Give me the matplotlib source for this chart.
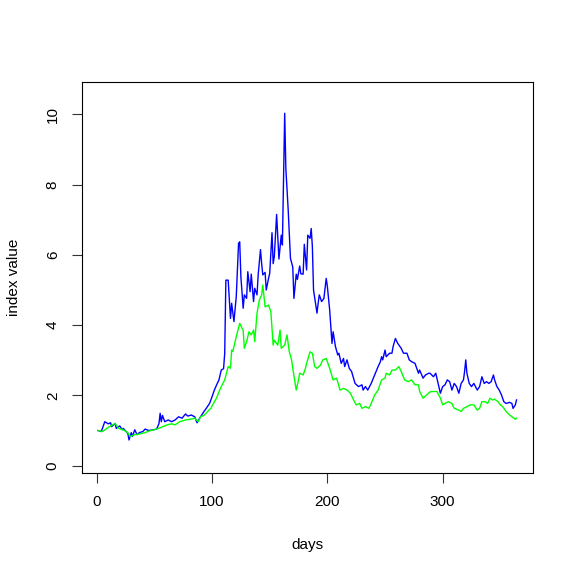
import matplotlib
matplotlib.use("Agg")
import matplotlib.pyplot as plt

plt.rcParams['font.family'] = ['Liberation Sans', 'DejaVu Sans']

# blue index
blue_days = [1, 4, 7, 10, 12, 13, 16, 17, 20, 22, 23, 25, 27, 28, 30, 31, 33, 35, 37, 40,
             42, 45, 49, 52, 54, 55, 56, 57, 59, 62, 65, 68, 71, 74, 77, 79, 82, 85, 87, 90,
             93, 95, 98, 100, 102, 104, 106, 108, 110, 111, 112, 114, 116, 117, 119, 121, 123, 124, 125, 127,
             128, 130, 131, 133, 134, 136, 137, 139, 140, 142, 143, 144, 146, 147, 149, 150, 152, 153, 154, 156,
             158, 160, 161, 163, 164, 166, 167, 168, 170, 171, 173, 174, 176, 177, 179, 180, 182, 183, 185, 186,
             187, 188, 191, 192, 193, 195, 197, 199, 200, 202, 204, 205, 206, 207, 209, 210, 212, 214, 215, 217,
             219, 221, 224, 227, 230, 231, 233, 235, 238, 241, 244, 246, 247, 248, 250, 251, 254, 256, 257, 259,
             261, 264, 266, 269, 271, 273, 276, 279, 280, 283, 285, 288, 289, 292, 294, 296, 298, 300, 302, 304,
             306, 308, 310, 312, 314, 316, 318, 319, 320, 321, 323, 325, 327, 330, 332, 334, 336, 338, 340, 342,
             344, 345, 347, 349, 351, 353, 355, 358, 360, 361, 363, 364]
blue_vals = [1.00, 0.97, 1.25, 1.19, 1.22, 1.11, 1.20, 1.06, 1.13, 1.02, 1.06, 0.99, 0.92, 0.73, 0.94, 0.83, 1.02, 0.88, 0.94, 0.97,
             1.04, 1.00, 1.02, 1.04, 1.20, 1.49, 1.25, 1.43, 1.25, 1.30, 1.25, 1.30, 1.39, 1.35, 1.47, 1.41, 1.44, 1.39, 1.22, 1.39,
             1.54, 1.63, 1.78, 1.96, 2.15, 2.30, 2.44, 2.72, 2.76, 3.20, 5.28, 5.28, 4.19, 4.62, 4.10, 4.81, 6.33, 6.37, 5.38, 4.48,
             4.86, 4.76, 5.52, 4.95, 5.45, 4.67, 5.05, 4.86, 5.43, 6.15, 5.76, 5.43, 5.50, 5.00, 5.33, 5.47, 6.63, 5.75, 5.95, 7.15,
             5.88, 6.56, 6.28, 10.03, 8.46, 7.30, 6.60, 5.90, 5.65, 4.76, 5.45, 5.30, 5.68, 5.46, 5.45, 6.30, 5.57, 6.56, 6.47, 6.75,
             6.23, 5.00, 4.34, 4.62, 4.86, 4.67, 4.76, 5.33, 5.10, 4.43, 3.48, 3.81, 3.60, 3.39, 3.15, 3.20, 2.91, 3.05, 2.82, 3.01,
             2.77, 2.68, 2.34, 2.25, 2.30, 2.15, 2.25, 2.15, 2.34, 2.58, 2.82, 2.96, 3.10, 3.01, 3.29, 3.10, 3.20, 3.20, 3.39, 3.62,
             3.48, 3.34, 3.20, 3.20, 3.01, 2.96, 2.91, 2.63, 2.72, 2.49, 2.58, 2.63, 2.63, 2.53, 2.63, 2.34, 2.06, 2.25, 2.30, 2.44,
             2.39, 2.15, 2.34, 2.25, 2.06, 2.34, 2.44, 2.68, 3.01, 2.63, 2.34, 2.25, 2.34, 2.15, 2.25, 2.53, 2.34, 2.39, 2.34, 2.39,
             2.58, 2.44, 2.25, 2.15, 2.01, 1.82, 1.77, 1.80, 1.77, 1.63, 1.73, 1.87]

# green index
green_days = [1, 5, 10, 16, 19, 23, 27, 29, 33, 37, 42, 46, 52, 56, 61, 65, 68, 72, 77, 81,
              85, 88, 90, 93, 97, 99, 101, 104, 106, 108, 111, 114, 116, 117, 118, 121, 124, 126, 127, 128,
              130, 132, 134, 136, 137, 139, 141, 143, 144, 146, 149, 151, 153, 154, 157, 159, 160, 163, 165, 167,
              169, 170, 173, 175, 176, 179, 181, 182, 185, 187, 189, 191, 194, 196, 199, 202, 205, 208, 211, 214,
              217, 220, 222, 225, 228, 230, 233, 236, 238, 241, 244, 247, 250, 251, 254, 256, 259, 262, 264, 267,
              270, 273, 276, 279, 280, 283, 286, 289, 292, 295, 298, 300, 302, 305, 308, 310, 314, 316, 318, 321,
              324, 327, 330, 332, 334, 337, 339, 341, 343, 345, 348, 350, 352, 355, 358, 361, 363, 364]
green_vals = [1.00, 0.97, 1.09, 1.20, 1.06, 1.02, 0.94, 0.83, 0.88, 0.90, 0.94, 0.99, 1.04, 1.09, 1.16, 1.19, 1.16, 1.25, 1.30, 1.32,
              1.35, 1.25, 1.39, 1.43, 1.57, 1.63, 1.76, 1.93, 2.10, 2.25, 2.44, 2.82, 2.77, 3.29, 3.25, 3.67, 4.05, 3.91, 3.86, 3.34,
              3.53, 3.81, 3.72, 3.86, 3.53, 4.34, 4.71, 4.86, 5.14, 4.52, 4.57, 4.38, 3.43, 3.57, 3.43, 3.86, 3.34, 3.43, 3.72, 3.24,
              3.01, 2.77, 2.15, 2.44, 2.63, 2.58, 2.77, 2.91, 3.24, 3.20, 2.82, 2.77, 2.86, 3.01, 3.05, 2.77, 2.44, 2.49, 2.15, 2.20,
              2.15, 2.06, 1.92, 1.73, 1.77, 1.63, 1.68, 1.63, 1.77, 2.01, 2.15, 2.44, 2.49, 2.63, 2.58, 2.72, 2.72, 2.82, 2.68, 2.44,
              2.39, 2.44, 2.30, 2.30, 2.11, 1.92, 2.01, 2.10, 2.11, 2.11, 1.92, 1.73, 1.77, 1.82, 1.77, 1.63, 1.58, 1.54, 1.63, 1.68,
              1.73, 1.73, 1.58, 1.63, 1.82, 1.82, 1.77, 1.92, 1.87, 1.89, 1.82, 1.73, 1.68, 1.54, 1.44, 1.37, 1.32, 1.35]

x_ticks = [0, 100, 200, 300]
y_ticks = [0, 2, 4, 6, 8, 10]

fig = plt.figure(figsize=(5.75, 5.75), dpi=100)
ax = fig.add_axes([82 / 575, 102 / 575, 451 / 575, 391 / 575])

ax.plot(blue_days, blue_vals, color='#0000ff', linewidth=1.0)
ax.plot(green_days, green_vals, color='#00ff00', linewidth=1.0)

ax.set_xlim(-12.75, 378.3)
ax.set_ylim(-0.21, 10.92)
ax.set_xticks(x_ticks)
ax.set_yticks(y_ticks)
ax.tick_params(direction='out', length=7, width=0.8, pad=9, labelsize=11, color='#333333')
for lab in ax.get_yticklabels():
    lab.set_rotation(90)
    lab.set_va('center')
for sp in ax.spines.values():
    sp.set_linewidth(0.8)

fig.text(307 / 575, 1 - 545 / 575, 'days', ha='center', va='center', fontsize=11)
fig.text(14 / 575, 1 - 277 / 575, 'index value', ha='center', va='center', rotation=90, fontsize=11)

fig.savefig('out.png', dpi=100)
